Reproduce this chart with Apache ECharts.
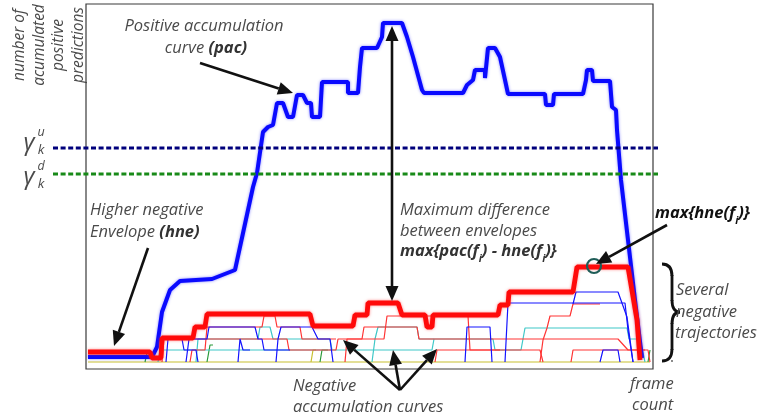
<!DOCTYPE html>
<html><head><meta charset="utf-8">
<script src="https://cdn.jsdelivr.net/npm/echarts@6/dist/echarts.min.js"></script>
<style>html,body{margin:0;padding:0;background:#fff}#c{width:766px;height:420px}</style>
</head><body><div id="c"></div><script>
// ---- data: [frame, accumulated predictions] ----
const frameRange = [0, 567];
const countRange = [0, 365];

// positive accumulation curve (pac)
const pac = [[2,12],[66,12],[71,22],[76,57],[84,79],[94,88],[126,90],[149,99],[167,182],[171,196],[177,237],[182,242],[187,244],[191,266],[197,266],[202,252],[207,252],[211,274],[217,274],[221,266],[225,266],[226,252],[234,252],[236,287],[262,287],[262,276],[272,276],[274,302],[276,321],[291,321],[296,332],[297,346],[316,346],[321,332],[327,312],[336,279],[338,276],[377,276],[381,284],[387,289],[389,299],[399,299],[399,291],[402,321],[409,321],[414,312],[419,289],[422,275],[459,275],[460,264],[467,264],[468,275],[497,275],[500,289],[501,299],[506,299],[507,288],[524,288],[526,262],[530,259],[531,239],[535,189],[542,129],[549,69],[556,11]];

// higher negative envelope (hne)
const hne = [[2,17],[64,17],[66,11],[75,11],[76,31],[107,31],[109,42],[119,42],[121,55],[224,55],[227,43],[267,43],[269,54],[281,54],[282,66],[312,66],[316,54],[339,54],[341,42],[346,42],[347,54],[412,54],[414,64],[422,64],[423,77],[487,77],[491,102],[542,102],[551,49],[554,9]];

// negative accumulation curves
const negCyan = [
  [[72,7],[74,19],[346,19],[348,30],[407,30],[409,19],[435,19],[439,41],[541,41],[543,30],[554,30],[559,7]],
  [[110,7],[112,30],[172,30],[174,42],[184,42],[187,30],[244,30],[246,19]],
  [[286,7],[289,30],[292,42],[331,42],[333,30],[348,30]]
];
const negRed = [
  [[76,7],[78,30],[201,30],[203,19],[250,19],[252,30],[276,30],[278,42],[331,42],[333,30],[532,30],[542,19],[562,19],[564,7]],
  [[104,7],[106,19],[119,19],[121,42],[176,42],[178,53],[189,53],[191,42],[214,42],[216,30],[250,30]],
  [[259,7],[261,30],[298,30],[301,53],[382,53],[384,19],[414,19]],
  [[349,7],[351,19],[454,19],[457,7]],
  [[454,7],[457,29],[461,41],[464,53],[484,53],[487,65],[514,65]],
  [[485,7],[487,19],[559,19]]
];
const negBlue = [
  [[80,7],[82,30],[96,30],[98,19],[110,19],[112,7]],
  [[100,7],[103,30],[121,30],[123,42],[169,42],[172,30],[176,30],[178,19],[204,19]],
  [[152,7],[154,30],[157,19],[164,19]],
  [[190,7],[192,30],[195,42],[226,42],[232,30],[244,30],[247,7]],
  [[379,7],[381,42],[404,42],[406,7]],
  [[419,7],[422,66],[539,66],[542,39],[547,7]],
  [[487,65],[490,77],[532,77],[541,52],[547,7]],
  [[514,7],[517,19],[532,19],[534,7]]
];
const negGreen = [
  [[59,7],[61,16],[66,16]],
  [[121,7],[124,24],[127,24]],
  [[234,7],[236,19],[242,19]],
  [[562,7],[564,19]]
];
const negYellow = [
  [[2,7],[564,7]],
  [[225,7],[227,19],[230,19]]
];

// thresholds gamma_k^u and gamma_k^d
const thresholds = [221, 195];
// frame of the largest pac - hne gap, and of the hne maximum
const maxDiffFrame = 306;
const maxHneFrame = 509;

// ---- chart ----
const FONT = '"Open Sans"';
const GREY = '#4a4a4a';
const chart = echarts.init(document.getElementById('c'), null, {renderer: 'canvas'});

function thin(list, color) {
  return list.map(d => ({
    type: 'line', data: d, symbol: 'none', silent: true, z: 2,
    lineStyle: {color: color, width: 1.2}
  }));
}

const series = [].concat(
  thin(negYellow, '#c8c030'),
  thin(negGreen, '#2a9a3a'),
  thin(negCyan, '#3ec8c8'),
  thin(negRed, '#ff3434'),
  thin(negBlue, '#1414ff'),
  [{type: 'line', data: pac, symbol: 'none', z: 4,
    lineStyle: {color: '#0a0aff', width: 4, shadowColor: 'rgba(40,40,255,0.55)', shadowBlur: 3}},
   {type: 'line', data: hne, symbol: 'none', z: 5,
    lineStyle: {color: '#ff0a0a', width: 4.8, shadowColor: 'rgba(255,40,40,0.55)', shadowBlur: 3}}]
);

chart.setOption({
  animation: false,
  grid: {left: 86, top: 4, width: 567, height: 365, show: true,
         borderColor: '#3a3a3a', borderWidth: 1.2, backgroundColor: '#fff'},
  xAxis: {type: 'value', min: frameRange[0], max: frameRange[1],
          axisLine: {show: false}, axisTick: {show: false},
          axisLabel: {show: false}, splitLine: {show: false}},
  yAxis: {type: 'value', min: countRange[0], max: countRange[1],
          axisLine: {show: false}, axisTick: {show: false},
          axisLabel: {show: false}, splitLine: {show: false}},
  series: series
});

const toPx = p => chart.convertToPixel({gridIndex: 0}, p);

function valueAt(curve, f) {
  let v = curve[0][1];
  for (const [x, y] of curve) { if (x <= f) v = y; }
  return v;
}

function head(x1, y1, x2, y2, len, half) {
  const a = Math.atan2(y2 - y1, x2 - x1);
  const bx = x2 - len * Math.cos(a), by = y2 - len * Math.sin(a);
  return {
    base: [bx, by],
    poly: {type: 'polygon', z: 20, shape: {points: [[x2, y2],
      [bx + half * Math.sin(a), by - half * Math.cos(a)],
      [bx - half * Math.sin(a), by + half * Math.cos(a)]]},
      style: {fill: '#111'}}
  };
}
function arrow(x1, y1, x2, y2, both) {
  const h2 = head(x1, y1, x2, y2, 15, 6.5);
  const out = [h2.poly];
  let s = [x1, y1];
  if (both) { const h1 = head(x2, y2, x1, y1, 15, 6.5); out.push(h1.poly); s = h1.base; }
  out.push({type: 'line', z: 19, shape: {x1: s[0], y1: s[1], x2: h2.base[0], y2: h2.base[1]},
            style: {stroke: '#111', lineWidth: 2.6}});
  return out;
}
function label(x, y, text, opt) {
  opt = opt || {};
  return {type: 'text', z: 30, x: x, y: y, rotation: opt.rotation || 0,
    style: {text: text, fill: opt.fill || GREY,
      font: (opt.weight || 'normal') + ' italic ' + (opt.size || 16.5) + 'px ' + FONT,
      align: opt.align || 'left', verticalAlign: 'middle',
      lineHeight: opt.lineHeight, rich: opt.rich}};
}
const tok = (size, fill, weight) => ({fontSize: size, fontStyle: 'italic', fontWeight: weight || 'normal',
  fontFamily: FONT, fill: fill, lineHeight: 22, verticalAlign: 'middle'});
const subRich = (fill, weight) => ({
  m: tok(16.5, fill, weight),
  s: Object.assign(tok(10.5, fill, weight), {verticalAlign: 'bottom', padding: [0, 0, -3, 0]})
});

const g = [];
// threshold lines
const thColors = ['#00007c', '#188a18'];
thresholds.forEach((t, i) => {
  const y = toPx([0, t])[1];
  g.push({type: 'line', z: 6, shape: {x1: 53, y1: y, x2: 658, y2: y},
          style: {stroke: thColors[i], lineWidth: 3, lineDash: [5, 2.6]}});
});
// gamma labels
[['u', 0], ['d', 1]].forEach(([sup, i]) => {
  const y = toPx([0, thresholds[i]])[1];
  const yc = i === 0 ? y - 5 : y + 3;
  g.push(label(29, yc, 'γ', {size: 24, align: 'center'}));
  g.push(label(41, yc - 11, sup, {size: 12.5, align: 'center'}));
  g.push(label(41, yc + 7, 'k', {size: 13.5, align: 'center'}));
});
// y-axis title
g.push(label(49, 45, 'number of\nacumulated\npositive\npredictions',
             {size: 15.5, align: 'center', rotation: Math.PI / 2, lineHeight: 19.5}));

// text blocks
g.push(label(204, 26, 'Positive accumulation', {align: 'center'}));
g.push(label(206, 48, '{a|curve }{b|(pac)}', {align: 'center', rich: {
  a: tok(16.5, GREY), b: tok(16.5, '#333', 'bold')}}));
g.push(label(90, 210, 'Higher negative'));
g.push(label(90, 232, '{a|Envelope }{b|(hne)}', {rich: {
  a: tok(16.5, GREY), b: tok(16.5, '#333', 'bold')}}));
g.push(label(400, 210, 'Maximum difference'));
g.push(label(400, 231, 'between envelopes'));
g.push(label(400, 251, '{m|max{pac(f}{s|i}{m|) - hne(f}{s|i}{m|)}}',
             {rich: subRich('#333', 'bold'), weight: 'bold', fill: '#333'}));
g.push(label(655, 213, '{m|max{hne(f}{s|i}{m|)}}',
             {rich: subRich('#111', 'bold'), weight: 'bold', fill: '#111'}));
g.push(label(676, 290, 'Several'));
g.push(label(676, 312, 'negative'));
g.push(label(675, 333, 'trajectories'));
g.push(label(293, 386, 'Negative'));
g.push(label(293, 407, 'accumulation curves'));
g.push(label(630, 384, 'frame'));
g.push(label(632, 405, 'count'));

// arrows
g.push(...arrow(200, 63, 293, 93));
g.push(...arrow(148, 248, 114, 346));
const pTop = toPx([maxDiffFrame, valueAt(pac, maxDiffFrame)]);
const pBot = toPx([maxDiffFrame, valueAt(hne, maxDiffFrame)]);
g.push(...arrow(pTop[0], pTop[1] + 3, pBot[0], pBot[1] - 2, true));
const hm = toPx([maxHneFrame, valueAt(hne, maxHneFrame)]);
g.push({type: 'circle', z: 18, shape: {cx: hm[0] - 1, cy: hm[1] - 1, r: 7},
        style: {stroke: '#1f5d58', fill: 'none', lineWidth: 2.2}});
g.push(...arrow(667, 225, hm[0] + 1, hm[1] - 3));
g.push(...arrow(400, 390, 343, 340));
g.push(...arrow(400, 390, 393, 350));
g.push(...arrow(400, 390, 437, 349));

// brace next to the trajectories
const braceStyle = {stroke: '#111', fill: 'none', lineWidth: 2.8};
[[662, 264, 672, 276, 672, 264], [672, 300, 680, 312, 672, 312],
 [680, 312, 672, 324, 672, 312], [672, 349, 662, 361, 672, 361]].forEach(b => {
  g.push({type: 'bezierCurve', z: 20, shape: {x1: b[0], y1: b[1], x2: b[2], y2: b[3], cpx1: b[4], cpy1: b[5]},
          style: braceStyle});
});
g.push({type: 'line', z: 20, shape: {x1: 672, y1: 275, x2: 672, y2: 301}, style: braceStyle});
g.push({type: 'line', z: 20, shape: {x1: 672, y1: 323, x2: 672, y2: 350}, style: braceStyle});
g.push({type: 'circle', z: 20, shape: {cx: 672, cy: 361, r: 0.9}, style: {fill: '#555'}});

chart.setOption({graphic: {elements: g}});
</script></body></html>
